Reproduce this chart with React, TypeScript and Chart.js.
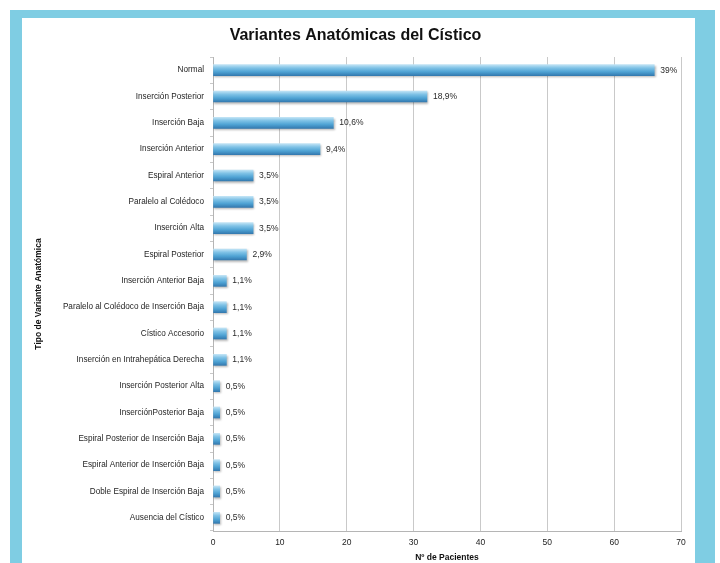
import React, { useEffect, useRef } from "react";
import { Chart, registerables } from "chart.js";

Chart.register(...registerables);

const categories = [
  "Normal",
  "Inserción Posterior",
  "Inserción Baja",
  "Inserción Anterior",
  "Espiral Anterior",
  "Paralelo al Colédoco",
  "Inserción Alta",
  "Espiral Posterior",
  "Inserción Anterior Baja",
  "Paralelo al Colédoco de Inserción Baja",
  "Cístico Accesorio",
  "Inserción en Intrahepática Derecha",
  "Inserción Posterior Alta",
  "InserciónPosterior Baja",
  "Espiral Posterior de Inserción Baja",
  "Espiral Anterior de Inserción Baja",
  "Doble Espiral de Inserción Baja",
  "Ausencia del Cístico",
];

const patients = [66, 32, 18, 16, 6, 6, 6, 5, 2, 2, 2, 2, 1, 1, 1, 1, 1, 1];

const percentLabels = [
  "39%", "18,9%", "10,6%", "9,4%", "3,5%", "3,5%", "3,5%", "2,9%",
  "1,1%", "1,1%", "1,1%", "1,1%", "0,5%", "0,5%", "0,5%", "0,5%", "0,5%", "0,5%",
];

const xMin = 0;
const xMax = 70;
const xStep = 10;

const FONT = "'Liberation Sans', Arial, sans-serif";

const barPlugin = {
  id: "barDecor",
  beforeDatasetsDraw(chart: any) {
    const c = chart.ctx;
    c.save();
    c.shadowColor = "rgba(0,0,0,0.28)";
    c.shadowOffsetY = 1.5;
    c.shadowOffsetX = 1;
    c.shadowBlur = 2;
  },
  afterDatasetsDraw(chart: any) {
    const c = chart.ctx;
    c.restore();
    const meta = chart.getDatasetMeta(0);
    c.save();
    c.font = `8.5px ${FONT}`;
    c.fillStyle = "#2a2a2a";
    c.textBaseline = "middle";
    c.textAlign = "left";
    meta.data.forEach((bar: any, i: number) => {
      c.fillText(percentLabels[i], bar.x + 6, bar.y);
    });
    c.restore();
  },
};

export default function App() {
  const ref = useRef<HTMLCanvasElement | null>(null);

  useEffect(() => {
    if (!ref.current) return;
    const chart = new Chart(ref.current, {
      type: "bar",
      data: {
        labels: categories,
        datasets: [
          {
            data: patients,
            barThickness: 11,
            borderWidth: 0,
            backgroundColor: (ctx: any) => {
              const ch = ctx.chart;
              const ys = ch.scales && ch.scales.y;
              if (!ys || ctx.type !== "data") return "#5aaed8";
              const yc = ys.getPixelForValue(ctx.dataIndex);
              if (!isFinite(yc)) return "#5aaed8";
              const g = ch.ctx.createLinearGradient(0, yc - 5.5, 0, yc + 5.5);
              g.addColorStop(0, "#c0e3f5");
              g.addColorStop(0.3, "#7fc2e6");
              g.addColorStop(0.65, "#4fa3d4");
              g.addColorStop(1, "#347ab0");
              return g;
            },
          },
        ],
      },
      options: {
        indexAxis: "y",
        animation: false,
        responsive: false,
        layout: { padding: { left: 30, right: 39, top: 26, bottom: 0 } },
        plugins: {
          legend: { display: false },
          tooltip: { enabled: false },
          title: {
            display: true,
            text: "Variantes Anatómicas del Cístico",
            color: "#111",
            font: { family: FONT, size: 16, weight: "bold" },
            padding: { top: 0, bottom: 11.8 },
          },
        },
        scales: {
          x: {
            min: xMin,
            max: xMax,
            ticks: {
              stepSize: xStep,
              color: "#222",
              font: { family: FONT, size: 8.5 },
              padding: 7,
            },
            grid: {
              color: "#c9c9c9",
              lineWidth: 1,
              drawTicks: false,
            },
            border: { color: "#b5b5b5" },
            title: {
              display: true,
              text: "Nº de Pacientes",
              color: "#111",
              font: { family: FONT, size: 8.5, weight: "bold" },
              padding: { top: 0, bottom: 0 },
            },
            afterFit(scale: any) {
              scale.height = 32;
            },
          },
          y: {
            ticks: {
              color: "#1e1e1e",
              font: { family: FONT, size: 8.2 },
              padding: 6,
              autoSkip: false,
            },
            grid: {
              drawOnChartArea: false,
              drawTicks: true,
              tickLength: 3,
              offset: true,
              color: "#c8c8c8",
            },
            border: { color: "#b5b5b5" },
            title: {
              display: true,
              text: "Tipo de Variante Anatómica",
              color: "#111",
              font: { family: FONT, size: 8.5, weight: "bold" },
            },
            afterFit(scale: any) {
              scale.width = 183;
            },
          },
        },
      },
      plugins: [barPlugin],
    });
    return () => chart.destroy();
  }, []);

  return (
    <div
      style={{
        position: "fixed",
        left: 0,
        top: 0,
        width: 720,
        height: 563,
        overflow: "hidden",
        background: "#ffffff",
      }}
    >
      <div
        style={{
          position: "absolute",
          left: 10,
          top: 10,
          width: 705,
          height: 620,
          background: "#7fcde3",
        }}
      />
      <div
        style={{
          position: "absolute",
          left: 22,
          top: 18,
          width: 673,
          height: 620,
          background: "#ffffff",
        }}
      />
      <canvas
        ref={ref}
        width={720}
        height={563}
        style={{ position: "absolute", left: 0, top: 0 }}
      />
    </div>
  );
}
